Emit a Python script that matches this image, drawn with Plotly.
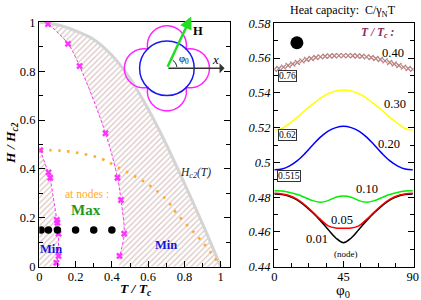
import numpy as np
import plotly.graph_objects as go

# ---------------- data: left panel (H/Hc2 vs T/Tc) ----------------
hc2_T = [0.0, 0.1, 0.2, 0.3, 0.4, 0.5, 0.6, 0.7, 0.8, 0.9, 1.0]
hc2_H = [1.0, 0.99, 0.965, 0.93, 0.865, 0.77, 0.645, 0.5, 0.34, 0.175, 0.0]

nodes_T = [0.004, 0.114, 0.224, 0.335, 0.427, 0.592, 0.702, 0.757, 0.905, 0.987]
nodes_H = [0.477, 0.475, 0.464, 0.444, 0.409, 0.341, 0.273, 0.218, 0.096, 0.016]

left_mk_T = [0.005, 0.051, 0.06, 0.097, 0.100, 0.106, 0.106, 0.094]
left_mk_H = [0.477, 0.386, 0.364, 0.191, 0.180, 0.135, 0.044, 0.016]
left_end_T = [0.088]
left_end_H = [0.0]

right_start_T = [0.03]
right_start_H = [1.0]
right_mk_T = [0.048, 0.158, 0.222, 0.365, 0.431, 0.450, 0.468, 0.442]
right_mk_H = [0.993, 0.912, 0.821, 0.546, 0.364, 0.273, 0.135, 0.044]
right_base_T = [0.44]

dots_T = [0.01, 0.05, 0.1, 0.2, 0.3, 0.4]
dots_H = [0.15, 0.15, 0.15, 0.15, 0.15, 0.15]

# ---------------- data: right panel (C/gamma_N T vs phi0) ----------------
phi = [0, 5, 10, 15, 20, 25, 30, 35, 40, 45, 50, 55, 60, 65, 70, 75, 80, 85, 90]
c_030 = [0.5186, 0.5195, 0.5225, 0.5260, 0.5300, 0.5335, 0.5370, 0.5395, 0.5410, 0.5416,
         0.5410, 0.5395, 0.5370, 0.5335, 0.5300, 0.5260, 0.5225, 0.5195, 0.5186]
c_020 = [0.4958, 0.4962, 0.4980, 0.5010, 0.5052, 0.5100, 0.5145, 0.5180, 0.5200, 0.5208,
         0.5200, 0.5180, 0.5145, 0.5100, 0.5052, 0.5010, 0.4980, 0.4962, 0.4958]
c_010 = [0.4837, 0.4835, 0.4827, 0.4815, 0.4798, 0.4780, 0.4771, 0.4780, 0.4800, 0.4807,
         0.4800, 0.4780, 0.4771, 0.4780, 0.4798, 0.4815, 0.4827, 0.4835, 0.4837]
c_005 = [0.4822, 0.4818, 0.4808, 0.4787, 0.4755, 0.4715, 0.4672, 0.4635, 0.4622, 0.4621,
         0.4622, 0.4635, 0.4672, 0.4715, 0.4755, 0.4787, 0.4808, 0.4818, 0.4822]
c_001 = [0.4818, 0.4815, 0.4804, 0.4783, 0.4750, 0.4710, 0.4665, 0.4614, 0.4565, 0.4538,
         0.4565, 0.4614, 0.4665, 0.4710, 0.4750, 0.4783, 0.4804, 0.4815, 0.4818]
phi_x = [0, 3, 6, 9, 12, 15, 18, 21, 24, 27, 30, 33, 36, 39, 42, 45,
         48, 51, 54, 57, 60, 63, 66, 69, 72, 75, 78, 81, 84, 87, 90]
c_040 = [0.5535, 0.5540, 0.5548, 0.5557, 0.5566, 0.5575, 0.5584, 0.5592, 0.5598, 0.5603,
         0.5607, 0.5610, 0.5612, 0.5613, 0.5614, 0.5614, 0.5614, 0.5613, 0.5612, 0.5610,
         0.5607, 0.5603, 0.5598, 0.5592, 0.5584, 0.5575, 0.5566, 0.5557, 0.5548, 0.5540, 0.5535]

W, H = 421, 300
SERIF = "Liberation Serif"

# pixel layout
LX0, LX1 = 39.3, 229.8
LXR = [0, 1.05]
LY0, LY1 = 266.7, 22.3
RX0, RX1 = 274.3, 413.5
RXR = [0, 90.5]
RY0, RY1 = 266.7, 23.3

def fx(p):
    return p / W

def fy(p):
    return 1 - p / H

fig = go.Figure()

# hatched regions
right_poly_T = hc2_T + right_base_T + right_mk_T[::-1] + right_start_T
right_poly_H = hc2_H + [0.0] + right_mk_H[::-1] + right_start_H
left_poly_T = [0.0] + left_mk_T + left_end_T + [0.0]
left_poly_H = [left_mk_H[0]] + left_mk_H + left_end_H + [0.0]
hatch = dict(shape="/", fgcolor="#b98c8c", bgcolor="white", size=4, solidity=0.32)
for PT, PH in ((right_poly_T, right_poly_H), (left_poly_T, left_poly_H)):
    fig.add_trace(go.Scatter(x=PT, y=PH, mode="lines", fill="toself",
                             fillcolor="white", fillpattern=hatch,
                             line=dict(width=0), hoverinfo="skip",
                             xaxis="x", yaxis="y"))

fig.add_trace(go.Scatter(x=hc2_T, y=hc2_H, mode="lines", line_shape="spline",
                         line=dict(color="#d4d4d4", width=3), xaxis="x", yaxis="y"))
fig.add_trace(go.Scatter(x=nodes_T, y=nodes_H, mode="lines", line_shape="spline",
                         line=dict(color="#ffab2e", width=2.6, dash="2.6px,6.4px"),
                         xaxis="x", yaxis="y"))
fig.add_trace(go.Scatter(x=left_mk_T + left_end_T, y=left_mk_H + left_end_H, mode="lines",
                         line=dict(color="#ff33ff", width=1, dash="3px,2px"),
                         xaxis="x", yaxis="y"))
fig.add_trace(go.Scatter(x=right_start_T + right_mk_T, y=right_start_H + right_mk_H,
                         mode="lines", line_shape="spline",
                         line=dict(color="#ff33ff", width=1, dash="3px,2px"),
                         xaxis="x", yaxis="y"))
fig.add_trace(go.Scatter(x=left_mk_T + right_mk_T, y=left_mk_H + right_mk_H, mode="markers",
                         marker=dict(symbol="x", size=6, color="#ff33ff"),
                         xaxis="x", yaxis="y"))
fig.add_trace(go.Scatter(x=dots_T, y=dots_H, mode="markers",
                         marker=dict(size=7.5, color="black"), xaxis="x", yaxis="y"))

# right panel curves
fig.add_trace(go.Scatter(x=phi_x, y=c_040, mode="markers",
                         marker=dict(symbol="x-thin", size=5,
                                     line=dict(width=1.3, color="#b98282")),
                         xaxis="x2", yaxis="y2"))
for vals, col in ((c_030, "#ffff00"), (c_020, "#0000ff"), (c_010, "#00ee00"),
                  (c_001, "#000000"), (c_005, "#ff0000")):
    fig.add_trace(go.Scatter(x=phi, y=vals, mode="lines", line_shape="spline",
                             line=dict(color=col, width=1.5), xaxis="x2", yaxis="y2"))
fig.add_trace(go.Scatter(x=[14.7], y=[0.5688], mode="markers",
                         marker=dict(size=13, color="black"), xaxis="x2", yaxis="y2"))

ann = []
def t(x, y, s, size=12, color="black", xref="x", yref="y", **kw):
    d = dict(x=x, y=y, text=s, showarrow=False, xref=xref, yref=yref,
             xanchor="center", yanchor="middle",
             font=dict(family=SERIF, size=size, color=color))
    d.update(kw)
    ann.append(d)

# left panel texts
t(0.262, 0.297, "at nodes :", 11.5, "#ffab2e")
t(0.258, 0.232, "<b>Max</b>", 15, "#1f9a1f")
t(0.066, 0.072, "<b>Min</b>", 12.5, "#1515d5")
t(0.699, 0.089, "<b>Min</b>", 12.5, "#1515d5")
t(0.859, 0.383, "<i>H<sub>c2</sub>(T)</i>", 11.5, "#222")

# inset geometry (center in pixels)
CXP, CYP = 166.9, 68.3
cx = (CXP - LX0) / (LX1 - LX0) * (LXR[1] - LXR[0])
cy = (LY0 - CYP) / (LY0 - LY1)
d_l, R_l = 23.0, 19.5
th = np.linspace(0, 2 * np.pi, 361)
rr = []
for a in th:
    u = np.array([np.cos(a), np.sin(a)])
    best = 0
    for al in (0, np.pi / 2, np.pi, 1.5 * np.pi):
        c = d_l * np.array([np.cos(al), np.sin(al)])
        cu = c @ u
        disc = R_l ** 2 - d_l ** 2 + cu ** 2
        if disc >= 0:
            best = max(best, cu + np.sqrt(disc))
    rr.append(best)
pts = [(r * np.cos(a), r * np.sin(a)) for r, a in zip(rr, th)]
clover = "M " + " L ".join(f"{p[0]:.2f},{p[1]:.2f}" for p in pts) + " Z"
arc_a = np.linspace(np.radians(8), np.radians(55), 12)
arc = "M " + " L ".join(f"{10*np.cos(a):.2f},{10*np.sin(a):.2f}" for a in arc_a)
shapes = [
    dict(type="path", path=clover, xref="x", yref="y", xsizemode="pixel", ysizemode="pixel",
         xanchor=cx, yanchor=cy, line=dict(color="#ff22ff", width=1.5)),
    dict(type="circle", xref="x", yref="y", xsizemode="pixel", ysizemode="pixel",
         xanchor=cx, yanchor=cy, x0=-27.3, x1=27.3, y0=-27.3, y1=27.3,
         line=dict(color="#1a1aee", width=1.5)),
    dict(type="path", path=arc, xref="x", yref="y", xsizemode="pixel", ysizemode="pixel",
         xanchor=cx, yanchor=cy, line=dict(color="black", width=1)),
]
ann.append(dict(x=fx(CXP + 57.7), y=fy(CYP), xref="paper", yref="paper", ax=-57.7, ay=0,
                text="", showarrow=True, arrowhead=1, arrowsize=1.2, arrowwidth=1.4,
                arrowcolor="#333"))
ann.append(dict(x=fx(CXP + 24.3), y=fy(CYP - 51.7), xref="paper", yref="paper",
                ax=-24.3, ay=51.7, text="", showarrow=True, arrowhead=2, arrowsize=1,
                arrowwidth=2.5, arrowcolor="#22dd22"))
t(fx(CXP + 31), fy(CYP - 37.7), "<b>H</b>", 12.5, xref="paper", yref="paper")
t(fx(CXP + 48.7), fy(CYP - 9), "<i>x</i>", 13, xref="paper", yref="paper")
t(fx(CXP + 17.5), fy(CYP - 8.3), "φ<sub>0</sub>", 10.5, xref="paper", yref="paper")

# right panel texts
t(76.9, 0.5627, "0.40", 12.5, xref="x2", yref="y2")
t(78.2, 0.5334, "0.30", 12.5, xref="x2", yref="y2")
t(74.5, 0.5104, "0.20", 12.5, xref="x2", yref="y2")
t(60.3, 0.4849, "0.10", 12.5, xref="x2", yref="y2")
t(44.3, 0.4669, "0.05", 12.5, xref="x2", yref="y2")
t(28.0, 0.4558, "0.01", 12.5, xref="x2", yref="y2")
t(46.3, 0.4471, "(node)", 9, xref="x2", yref="y2")
t(67.1, 0.5742, "<b><i>T / T<sub>c</sub> :</i></b>", 11.5, "#8a2a55", xref="x2", yref="y2")
for xv, yv, s in ((8.3, 0.5496, "0.76"), (8.3, 0.5157, "0.62"), (9.4, 0.4922, "0.515")):
    t(xv, yv, s, 9.5, xref="x2", yref="y2", bordercolor="#333", borderwidth=1,
      borderpad=0, bgcolor="white")

# titles
t(fx(343), fy(10.5), "Heat capacity:  C/γ<sub>N</sub>T", 12, xref="paper", yref="paper")
t(fx(11), fy(143), "<b><i>H / H<sub>c2</sub></i></b>", 13.5, xref="paper", yref="paper",
  textangle=-90)
t(fx(136), fy(289), "<b><i>T / T<sub>c</sub></i></b>", 13.5, xref="paper", yref="paper")
t(fx(343), fy(290.5), "φ<sub>0</sub>", 15, xref="paper", yref="paper")

axis_common = dict(showgrid=False, zeroline=False, showline=True, linecolor="black",
                   linewidth=1.4, ticks="inside", ticklen=6, tickcolor="black",
                   tickwidth=1, automargin=False, ticklabeloverflow="allow",
                   tickfont=dict(family=SERIF, size=12.5, color="black"))
fig.update_layout(
    width=W, height=H, margin=dict(l=0, r=0, t=0, b=0, pad=0, autoexpand=False),
    paper_bgcolor="white", plot_bgcolor="white", showlegend=False,
    xaxis=dict(domain=[fx(LX0), fx(LX1)], range=LXR, tick0=0, dtick=0.2, mirror=True,
               ticklabelstandoff=-2,
               minor=dict(dtick=0.1, ticks="inside", ticklen=4, tickcolor="black"),
               anchor="y", **axis_common),
    yaxis=dict(domain=[fy(LY0), fy(LY1)], range=[0, 1], tick0=0, dtick=0.2, mirror="ticks",
               minor=dict(dtick=0.1, ticks="inside", ticklen=4, tickcolor="black"),
               anchor="x", **axis_common),
    xaxis2=dict(domain=[fx(RX0), fx(RX1)], range=RXR, tick0=0, dtick=45, mirror=True,
                ticklabelstandoff=-2,
                minor=dict(dtick=11.25, ticks="inside", ticklen=4, tickcolor="black"),
                anchor="y2", **axis_common),
    yaxis2=dict(domain=[fy(RY0), fy(RY1)], range=[0.44, 0.58], tick0=0.44, dtick=0.02,
                mirror="ticks",
                minor=dict(dtick=0.01, ticks="inside", ticklen=4, tickcolor="black"),
                anchor="x2", **axis_common),
    annotations=ann, shapes=shapes,
)
fig.update_yaxes(tickfont=dict(style="italic"), selector=dict(anchor="x2"))
fig.write_html("out.html", config={"displayModeBar": False, "staticPlot": True},
               post_script="document.body.style.margin='0';"
                           "document.documentElement.style.overflow='hidden';")
